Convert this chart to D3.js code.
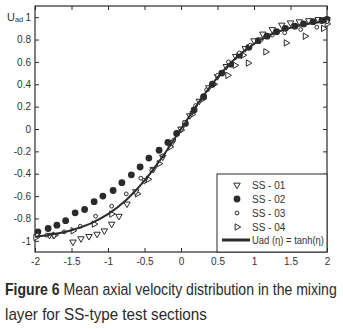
<!DOCTYPE html>
<meta charset="utf-8">
<head>
	<title>Figure 6 - Mean axial velocity</title>
</head>
<style>
body{ margin:0; background:#fff; }
svg{ display:block; }
.tick text{ font-family:"Liberation Sans", Arial, sans-serif; font-size:10px; fill:#333; }
</style>
<body>
<svg id="chart" width="343" height="329"></svg>

<script src="https://cdnjs.cloudflare.com/ajax/libs/d3/7.8.5/d3.min.js"></script>
<script>

// SS-01 (down triangles)
var ss01_x = [-1.80,-1.74,-1.48,-1.37,-1.26,-1.15,-1.05,-0.95,-0.85,-0.74,-0.62,-0.50,-0.38,-0.25,-0.12,0.00,0.12,0.25,0.38,0.50,0.62,0.75,0.88,1.00,1.12,1.25,1.38,1.50,1.62,1.75,1.88,2.00];
var ss01_y = [-0.95,-0.95,-1.01,-0.98,-0.96,-0.94,-0.91,-0.85,-0.78,-0.67,-0.56,-0.46,-0.36,-0.25,-0.12,0.00,0.12,0.25,0.37,0.47,0.56,0.65,0.72,0.79,0.85,0.89,0.93,0.95,0.96,0.97,0.98,0.98];
// SS-02 (filled circles)
var ss02_x = [-1.96,-1.82,-1.70,-1.58,-1.45,-1.32,-1.19,-1.07,-0.93,-0.81,-0.68,-0.56,-0.44,-0.30,-0.18,-0.06,0.06,0.18,0.31,0.43,0.56,0.68,0.80,0.93,1.06,1.18,1.31,1.43,1.56,1.68,1.81,1.93,2.00];
var ss02_y = [-0.92,-0.89,-0.86,-0.82,-0.75,-0.72,-0.65,-0.60,-0.55,-0.48,-0.41,-0.34,-0.26,-0.19,-0.12,-0.04,0.05,0.17,0.29,0.40,0.50,0.58,0.66,0.73,0.79,0.83,0.87,0.90,0.92,0.94,0.96,0.97,0.98];
// SS-03 (small open circles)
var ss03_x = [-1.97,-1.84,-1.60,-1.38,-1.17,-0.95,-0.75,-0.55,-0.40,-0.25,-0.10,0.05,0.20,0.35,0.50,0.65,0.80,0.95,1.10,1.25,1.42,1.64,1.86,2.00];
var ss03_y = [-0.95,-0.95,-0.92,-0.87,-0.78,-0.69,-0.58,-0.44,-0.37,-0.24,-0.10,0.06,0.21,0.35,0.48,0.60,0.68,0.75,0.80,0.84,0.86,0.89,0.91,0.96];
// SS-04 (right triangles)
var ss04_x = [-1.99,-1.73,-1.48,-1.19,-0.95,-0.60,-0.45,-0.30,-0.15,0.00,0.15,0.30,0.45,0.64,0.74,0.85,0.92,1.16,1.44,1.70,1.95,2.00];
var ss04_y = [-0.97,-0.95,-0.91,-0.85,-0.76,-0.58,-0.45,-0.31,-0.16,-0.01,0.13,0.27,0.40,0.48,0.57,0.66,0.59,0.69,0.77,0.83,0.90,0.94];
// Uad(eta) = tanh(eta), sampled values
var fit_x = [-2,-1.75,-1.5,-1.25,-1,-0.75,-0.5,-0.25,0,0.25,0.5,0.75,1,1.25,1.5,1.75,2];
var fit_y = [-0.964,-0.941,-0.905,-0.848,-0.762,-0.635,-0.462,-0.245,0,0.245,0.462,0.635,0.762,0.848,0.905,0.941,0.964];

var x_ticks = [-2,-1.5,-1,-0.5,0,0.5,1,1.5,2];
var y_ticks = [-1,-0.8,-0.6,-0.4,-0.2,0,0.2,0.4,0.6,0.8,1];
var legend_labels = ['SS - 01','SS - 02','SS - 03','SS - 04'];
var caption_bold = 'Figure 6';
var caption_line1 = ' Mean axial velocity distribution in the mixing';
var caption_line2 = 'layer for SS-type test sections';

var pLeft = 35, pRight = 327, pTop = 6, pBottom = 252;
var ink = '#2b2b2b';

var x = d3.scaleLinear().domain([-2, 2]).range([pLeft, pRight]);
var y = d3.scaleLinear().domain([-1.1, 1.1]).range([pBottom, pTop]);

function fmt(d){ return String(+d.toFixed(1)); }  // plain hyphen minus like the original

var svg = d3.select('#chart');

// axes (ticks inward on all four sides)
svg.append('g').attr('transform', 'translate(0,' + pBottom + ')')
	.call(d3.axisBottom(x).tickValues(x_ticks).tickSizeInner(-4).tickSizeOuter(0).tickPadding(6).tickFormat(fmt));
svg.append('g').attr('transform', 'translate(' + pLeft + ',0)')
	.call(d3.axisLeft(y).tickValues(y_ticks).tickSizeInner(-4).tickSizeOuter(0).tickPadding(4).tickFormat(fmt));
svg.append('g').attr('transform', 'translate(0,' + pTop + ')')
	.call(d3.axisTop(x).tickValues(x_ticks).tickSizeInner(-4).tickSizeOuter(0).tickFormat(''));
svg.append('g').attr('transform', 'translate(' + pRight + ',0)')
	.call(d3.axisRight(y).tickValues(y_ticks).tickSizeInner(-4).tickSizeOuter(0).tickFormat(''));
svg.selectAll('.domain').remove();
svg.selectAll('.tick line').attr('stroke', ink);

svg.append('rect')
	.attr('x', pLeft).attr('y', pTop)
	.attr('width', pRight - pLeft).attr('height', pBottom - pTop)
	.attr('fill', 'none').attr('stroke', ink).attr('stroke-width', 1.2);

// marker shapes
var tri = d3.symbol().type(d3.symbolTriangle).size(18);
function drawTriDown(sel){
	sel.append('path').attr('d', tri())
		.attr('transform', function(d){ return 'translate(' + d[0] + ',' + d[1] + ') rotate(180)'; })
		.attr('fill', '#fff').attr('stroke', ink).attr('stroke-width', 1);
}
function drawTriRight(sel){
	sel.append('path').attr('d', tri())
		.attr('transform', function(d){ return 'translate(' + d[0] + ',' + d[1] + ') rotate(90)'; })
		.attr('fill', '#fff').attr('stroke', ink).attr('stroke-width', 1);
}
function drawDot(sel){
	sel.append('circle').attr('cx', function(d){ return d[0]; }).attr('cy', function(d){ return d[1]; })
		.attr('r', 3.4).attr('fill', ink);
}
function drawRing(sel){
	sel.append('circle').attr('cx', function(d){ return d[0]; }).attr('cy', function(d){ return d[1]; })
		.attr('r', 1.9).attr('fill', '#fff').attr('stroke', ink).attr('stroke-width', 1);
}

function pts(xs, ys){
	return xs.map(function(v, i){ return [x(v), y(ys[i])]; });
}

var plot = svg.append('g');
plot.selectAll('g.s04').data(pts(ss04_x, ss04_y)).enter().append('g').call(drawTriRight);
plot.selectAll('g.s01').data(pts(ss01_x, ss01_y)).enter().append('g').call(drawTriDown);
plot.selectAll('g.s02').data(pts(ss02_x, ss02_y)).enter().append('g').call(drawDot);
plot.selectAll('g.s03').data(pts(ss03_x, ss03_y)).enter().append('g').call(drawRing);

var line = d3.line().x(function(d){ return x(d[0]); }).y(function(d){ return y(d[1]); })
	.curve(d3.curveMonotoneX);
plot.append('path')
	.datum(fit_x.map(function(v, i){ return [v, fit_y[i]]; }))
	.attr('d', line).attr('fill', 'none').attr('stroke', ink).attr('stroke-width', 2);

// legend
var lg = svg.append('g');
lg.append('rect').attr('x', 217).attr('y', 174).attr('width', pRight - 217).attr('height', pBottom - 174)
	.attr('fill', '#fff').attr('stroke', ink).attr('stroke-width', 1);
var drawers = [drawTriDown, drawDot, drawRing, drawTriRight];
legend_labels.forEach(function(lab, i){
	var yy = 185 + i * 14;
	lg.append('g').datum([237, yy]).call(drawers[i]);
	lg.append('text').attr('x', 252).attr('y', yy + 3.5).text(lab)
		.attr('font-family', '"Liberation Sans", Arial, sans-serif').attr('font-size', 10).attr('fill', '#333');
});
lg.append('line').attr('x1', 222).attr('x2', 250).attr('y1', 240).attr('y2', 240)
	.attr('stroke', ink).attr('stroke-width', 3);
lg.append('text').attr('x', 252).attr('y', 243.5)
	.attr('font-family', '"Liberation Sans", Arial, sans-serif').attr('font-size', 10).attr('fill', '#333')
	.attr('textLength', 72).attr('lengthAdjust', 'spacingAndGlyphs')
	.text('Uad (η) = tanh(η)');

// y label
var yl = svg.append('text').attr('x', 7).attr('y', 21)
	.attr('font-family', '"Liberation Sans", Arial, sans-serif').attr('font-size', 11).attr('fill', '#333');
yl.append('tspan').text('U');
yl.append('tspan').attr('font-size', 7.5).attr('dy', 1).text('ad');

// caption: condensed look by squeezing horizontally to the original width
function squeeze(g, width){
	var w = g.node().getBBox().width;
	g.attr('transform', 'translate(5,0) scale(' + (width / w) + ',1)');
}
var c1 = svg.append('g');
var cap = c1.append('text').attr('x', 0).attr('y', 295)
	.attr('font-family', '"Liberation Sans", Arial, sans-serif')
	.attr('font-size', 16).attr('fill', '#2a2a2a');
cap.append('tspan').attr('font-weight', 'bold').text(caption_bold);
cap.append('tspan').text(caption_line1);
squeeze(c1, 332);
var c2 = svg.append('g');
c2.append('text').attr('x', 0).attr('y', 320)
	.attr('font-family', '"Liberation Sans", Arial, sans-serif')
	.attr('font-size', 16).attr('fill', '#2a2a2a')
	.text(caption_line2);
squeeze(c2, 202);

</script>
</body>
</html>
